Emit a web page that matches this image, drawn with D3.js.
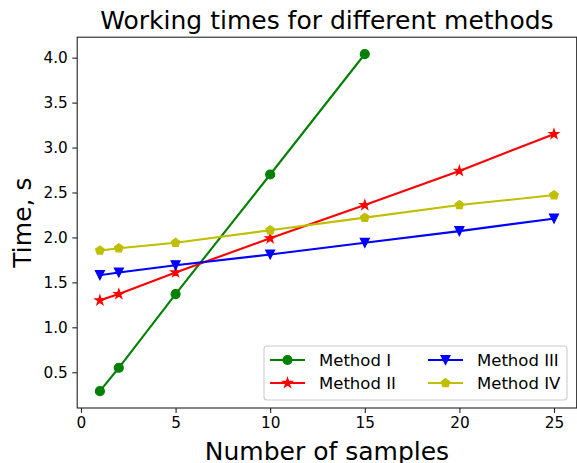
<!DOCTYPE html>
<html lang="en">
	<head>
		<meta charset="UTF-8"/>
		<title>Working times for different methods</title>
		<script type="text/javascript" src="https://cdn.jsdelivr.net/npm/d3@7/dist/d3.min.js"></script>
		<style>
			body { margin: 0; background: #fff; }
			text { font-family: "DejaVu Sans", sans-serif; fill: #000; }
		</style>
	</head>
	<body>
		<script type="text/javascript">
			// data
			var samples = [1, 2, 5, 10, 15, 20, 25];
			var samplesI = [1, 2, 5, 10, 15];
			var timesI = [0.29, 0.55, 1.37, 2.70, 4.04];
			var timesII = [1.30, 1.37, 1.61, 1.99, 2.36, 2.74, 3.15];
			var timesIII = [1.58, 1.61, 1.69, 1.81, 1.94, 2.07, 2.21];
			var timesIV = [1.855, 1.88, 1.94, 2.08, 2.22, 2.36, 2.47];
			var methodNames = ["Method I", "Method II", "Method III", "Method IV"];
			var xTicks = [0, 5, 10, 15, 20, 25];
			var yTicks = [0.5, 1.0, 1.5, 2.0, 2.5, 3.0, 3.5, 4.0];

			var w = 577;
			var h = 463;
			var plotLeft = 77.2, plotRight = 576.7, plotTop = 37.2, plotBottom = 408;
			var markR = 4.5;

			var series = [
				{ name: methodNames[0], xs: samplesI, ys: timesI, color: "#008000", marker: "circle" },
				{ name: methodNames[1], xs: samples, ys: timesII, color: "#ff0000", marker: "star" },
				{ name: methodNames[2], xs: samples, ys: timesIII, color: "#0000ff", marker: "tri" },
				{ name: methodNames[3], xs: samples, ys: timesIV, color: "#bfbf00", marker: "pent" }
			];

			var svg = d3.select("body")
				.append("svg")
				.attr("width", w)
				.attr("height", h);

			var xScale = d3.scaleLinear()
				.domain([-0.2, 26.2])
				.range([plotLeft, plotRight]);

			var yScale = d3.scaleLinear()
				.domain([0.1025, 4.2275])
				.range([plotBottom, plotTop]);

			// marker shapes, r = half the marker size
			function markerPath(type, r) {
				var p = d3.path();
				var i, a, rr;
				if (type == "circle") {
					p.moveTo(r, 0);
					p.arc(0, 0, r, 0, 2 * Math.PI);
				} else if (type == "tri") {
					p.moveTo(0, r);
					p.lineTo(-r, -r);
					p.lineTo(r, -r);
				} else if (type == "star") {
					for (i = 0; i < 10; i++) {
						a = -Math.PI / 2 + i * Math.PI / 5;
						rr = i % 2 == 0 ? r * 1.1 : r * 1.1 * 0.382;
						if (i == 0) p.moveTo(rr * Math.cos(a), rr * Math.sin(a));
						else p.lineTo(rr * Math.cos(a), rr * Math.sin(a));
					}
				} else {
					for (i = 0; i < 5; i++) {
						a = -Math.PI / 2 + i * 2 * Math.PI / 5;
						if (i == 0) p.moveTo(r * Math.cos(a), r * Math.sin(a));
						else p.lineTo(r * Math.cos(a), r * Math.sin(a));
					}
				}
				p.closePath();
				return p.toString();
			}

			var xAxis = d3.axisBottom()
				.scale(xScale)
				.tickValues(xTicks)
				.tickFormat(d3.format("d"))
				.tickSizeInner(4.9)
				.tickSizeOuter(0)
				.tickPadding(4.5);

			var yAxis = d3.axisLeft()
				.scale(yScale)
				.tickValues(yTicks)
				.tickFormat(d3.format(".1f"))
				.tickSizeInner(4.9)
				.tickSizeOuter(0)
				.tickPadding(4.5);

			svg.append("g")
				.attr("class", "axis")
				.attr("transform", "translate(0," + plotBottom + ")")
				.call(xAxis);

			svg.append("g")
				.attr("class", "axis")
				.attr("transform", "translate(" + plotLeft + ",0)")
				.call(yAxis);

			svg.selectAll(".axis .domain").remove();
			svg.selectAll(".axis line").attr("stroke", "#222").attr("stroke-width", 1.1);
			svg.selectAll(".axis text")
				.attr("font-family", "DejaVu Sans")
				.attr("font-size", "15.3px")
				.attr("fill", "#000");

			var line = d3.line();

			series.forEach(function(s) {
				var pts = s.xs.map(function(x, i) { return [xScale(x), yScale(s.ys[i])]; });
				svg.append("path")
					.attr("d", line(pts))
					.attr("fill", "none")
					.attr("stroke", s.color)
					.attr("stroke-width", 2.1)
					.attr("stroke-linejoin", "round")
					.attr("stroke-linecap", "square");

				svg.append("g").selectAll("path")
					.data(pts)
					.enter()
					.append("path")
					.attr("transform", function(d) { return "translate(" + d[0] + "," + d[1] + ")"; })
					.attr("d", markerPath(s.marker, markR))
					.attr("fill", s.color)
					.attr("stroke", s.color)
					.attr("stroke-width", 1.2)
					.attr("stroke-linejoin", "miter");
			});

			// frame
			svg.append("rect")
				.attr("x", plotLeft)
				.attr("y", plotTop)
				.attr("width", plotRight - plotLeft)
				.attr("height", plotBottom - plotTop)
				.attr("fill", "none")
				.attr("stroke", "#222")
				.attr("stroke-width", 1.1);

			// legend
			var legend = svg.append("g");
			legend.append("rect")
				.attr("x", 264)
				.attr("y", 346)
				.attr("width", 303)
				.attr("height", 54)
				.attr("rx", 3)
				.attr("fill", "#fff")
				.attr("fill-opacity", 0.8)
				.attr("stroke", "#cccccc")
				.attr("stroke-width", 1.1);

			var colX = [270, 428];
			var rowY = [360, 383];
			series.forEach(function(s, i) {
				var lx = colX[Math.floor(i / 2)];
				var ly = rowY[i % 2];
				legend.append("line")
					.attr("x1", lx)
					.attr("x2", lx + 35)
					.attr("y1", ly)
					.attr("y2", ly)
					.attr("stroke", s.color)
					.attr("stroke-width", 2.1);
				legend.append("path")
					.attr("transform", "translate(" + (lx + 17.5) + "," + ly + ")")
					.attr("d", markerPath(s.marker, markR))
					.attr("fill", s.color)
					.attr("stroke", s.color)
					.attr("stroke-width", 1.2);
				legend.append("text")
					.attr("x", lx + 49)
					.attr("y", ly)
					.attr("dy", "0.36em")
					.attr("font-size", "16.5px")
					.text(s.name);
			});

			// title and axis labels
			svg.append("text")
				.attr("x", (plotLeft + plotRight) / 2)
				.attr("y", 29)
				.attr("text-anchor", "middle")
				.attr("font-size", "25px")
				.text("Working times for different methods");

			svg.append("text")
				.attr("x", (plotLeft + plotRight) / 2)
				.attr("y", 460)
				.attr("text-anchor", "middle")
				.attr("font-size", "25px")
				.text("Number of samples");

			svg.append("text")
				.attr("transform", "translate(30.5," + ((plotTop + plotBottom) / 2) + ") rotate(-90)")
				.attr("text-anchor", "middle")
				.attr("font-size", "25px")
				.text("Time, s");
		</script>
	</body>
</html>
